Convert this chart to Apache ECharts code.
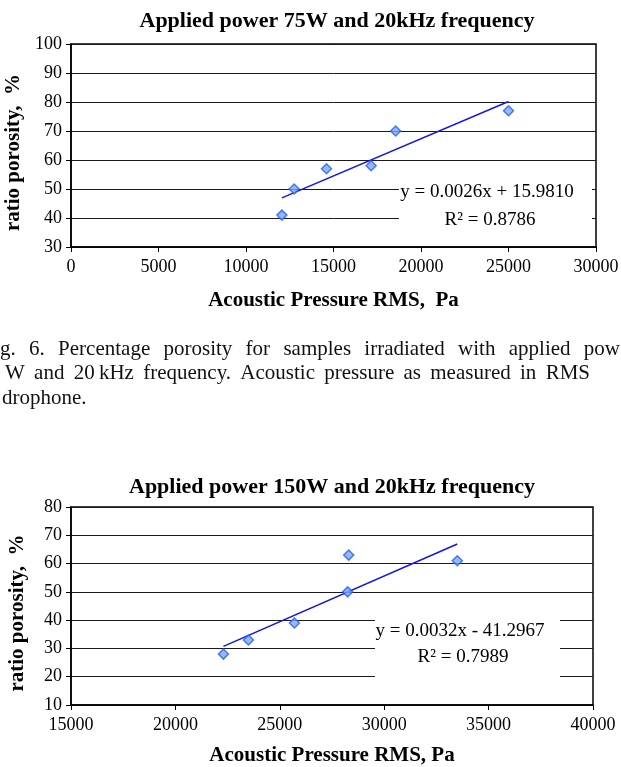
<!DOCTYPE html>
<html>
<head>
<meta charset="utf-8">
<script src="https://cdn.jsdelivr.net/npm/echarts@6/dist/echarts.min.js"></script>
<style>
  html, body { margin: 0; padding: 0; background: #fff; }
  #chart { width: 621px; height: 767px; }
</style>
</head>
<body>
<div id="chart"></div>
<script>
// 75 W / 20 kHz run
const pressure75 = [12050, 12750, 14600, 17150, 18550, 25000]
const porosity75 = [41, 50, 57, 58, 70, 77]
const fit75Text = ['y = 0.0026x + 15.9810', 'R² = 0.8786']

// 150 W / 20 kHz run
const pressure150 = [22300, 23500, 25700, 28250, 28300, 33500]
const porosity150 = [28, 33, 39, 50, 63, 61]
const fit150Text = ['y = 0.0032x - 41.2967', 'R² = 0.7989']

const title75 = 'Applied power 75W and 20kHz frequency'
const title150 = 'Applied power 150W and 20kHz frequency'
const xName75 = 'Acoustic Pressure RMS,  Pa'
const xName150 = 'Acoustic Pressure RMS, Pa'
const yName = 'ratio porosity,  %'

// caption (cropped at page edges, as in the scan)
const captionLines = [
  ['g.', '6.', 'Percentage', 'porosity', 'for', 'samples', 'irradiated', 'with', 'applied', 'pow'],
  ['W', 'and', '20\u2009kHz', 'frequency.', 'Acoustic', 'pressure', 'as', 'measured', 'in', 'RMS'],
  ['drophone.']
]

const serif = '"Liberation Serif", "Times New Roman", serif'
const captionFont = '21px ' + serif

// least squares trend line, drawn over the data range
function fitLine(xs, ys) {
  const n = xs.length
  const mx = xs.reduce((a, b) => a + b, 0) / n
  const my = ys.reduce((a, b) => a + b, 0) / n
  let sxy = 0, sxx = 0
  xs.forEach((x, i) => {
    sxy += (x - mx) * (ys[i] - my)
    sxx += (x - mx) * (x - mx)
  })
  const k = sxy / sxx
  const b = my - k * mx
  const lo = Math.min(...xs), hi = Math.max(...xs)
  return [[lo, k * lo + b], [hi, k * hi + b]]
}

// spread words over a line like justified print
const measureCtx = document.createElement('canvas').getContext('2d')
measureCtx.font = captionFont
function justify(words, x0, x1, y, last) {
  const widths = words.map(w => measureCtx.measureText(w).width)
  const total = widths.reduce((a, b) => a + b, 0)
  const gap = last ? 5 : (x1 - x0 - total) / (words.length - 1)
  let x = x0
  return words.map((w, i) => {
    const el = {
      type: 'text', x: x, y: y,
      style: { text: w, font: captionFont, fill: '#111', align: 'left', verticalAlign: 'middle' }
    }
    x += widths[i] + gap
    return el
  })
}

const axisCommon = {
  type: 'value',
  nameLocation: 'middle',
  nameTextStyle: { fontFamily: serif, fontSize: 21, fontWeight: 'bold', color: '#000' },
  axisLine: { show: true, lineStyle: { color: '#000', width: 1.5 } },
  axisTick: { show: true, length: 5, lineStyle: { color: '#000', width: 1 } },
  axisLabel: { color: '#000', fontFamily: serif, fontSize: 18, formatter: v => String(v) }
}

function xAxis(idx, min, max, name, gap) {
  return Object.assign({}, axisCommon, {
    gridIndex: idx, min: min, max: max, interval: 5000, name: name, nameGap: gap,
    splitLine: { show: false },
    axisLabel: Object.assign({}, axisCommon.axisLabel, { margin: 11 })
  })
}
function yAxis(idx, min, max) {
  return Object.assign({}, axisCommon, {
    gridIndex: idx, min: min, max: max, interval: 10, name: yName, nameGap: 43,
    // nudge the rotated title a little below the plot middle, like the scan
    nameTextStyle: Object.assign({}, axisCommon.nameTextStyle, { padding: [0, 14, 0, 0] }),
    splitLine: { show: true, lineStyle: { color: '#1a1a1a', width: 1 } },
    axisLabel: Object.assign({}, axisCommon.axisLabel, { margin: 9 })
  })
}

function scatter(idx, xs, ys) {
  return {
    type: 'scatter', xAxisIndex: idx, yAxisIndex: idx,
    data: xs.map((x, i) => [x, ys[i]]),
    symbol: 'diamond', symbolSize: 10,
    itemStyle: { color: '#78a8ff', borderColor: '#2a5cf0', borderWidth: 1.5 },
    z: 4
  }
}
function trend(idx, xs, ys) {
  return {
    type: 'line', xAxisIndex: idx, yAxisIndex: idx,
    data: fitLine(xs, ys), showSymbol: false, symbol: 'none',
    lineStyle: { color: '#1414ee', width: 1.5 }, z: 3, silent: true
  }
}

function eqBox(x, y, w, h, lines, cx, y1, y2) {
  return [
    { type: 'rect', z: 1, shape: { x: x, y: y, width: w, height: h }, style: { fill: '#fff' } },
    { type: 'text', z: 1, x: cx, y: y1, style: { text: lines[0], font: '19px ' + serif, fill: '#000', align: 'center', verticalAlign: 'middle' } },
    { type: 'text', z: 1, x: cx + 3, y: y2, style: { text: lines[1], font: '19px ' + serif, fill: '#000', align: 'center', verticalAlign: 'middle' } }
  ]
}

const chart = echarts.init(document.getElementById('chart'))
chart.setOption({
  animation: false,
  backgroundColor: '#fff',
  grid: [
    { left: 71, top: 44, width: 525, height: 203, outerBoundsMode: 'none', containLabel: false,
      show: true, borderColor: '#000', borderWidth: 1.5, backgroundColor: 'transparent' },
    { left: 71, top: 507, width: 522, height: 198, outerBoundsMode: 'none', containLabel: false,
      show: true, borderColor: '#000', borderWidth: 1.5, backgroundColor: 'transparent' }
  ],
  xAxis: [xAxis(0, 0, 30000, xName75, 43), xAxis(1, 15000, 40000, xName150, 40)],
  yAxis: [yAxis(0, 30, 100), yAxis(1, 10, 80)],
  series: [
    trend(0, pressure75, porosity75),
    scatter(0, pressure75, porosity75),
    trend(1, pressure150, porosity150),
    scatter(1, pressure150, porosity150)
  ],
  graphic: [
    { type: 'text', x: 337, y: 21, style: { text: title75, font: 'bold 22px ' + serif, fill: '#000', align: 'center', verticalAlign: 'middle' } },
    { type: 'text', x: 332, y: 487, style: { text: title150, font: 'bold 22px ' + serif, fill: '#000', align: 'center', verticalAlign: 'middle' } },
    ...eqBox(399, 172, 193, 60, fit75Text, 487, 192, 220),
    ...eqBox(375, 606, 185, 72, fit150Text, 460, 631, 657),
    ...justify(captionLines[0], 0, 620, 349, false),
    ...justify(captionLines[1], 5, 590, 373.5, false),
    ...justify(captionLines[2], 2, 621, 398, true)
  ]
})
</script>
</body>
</html>
